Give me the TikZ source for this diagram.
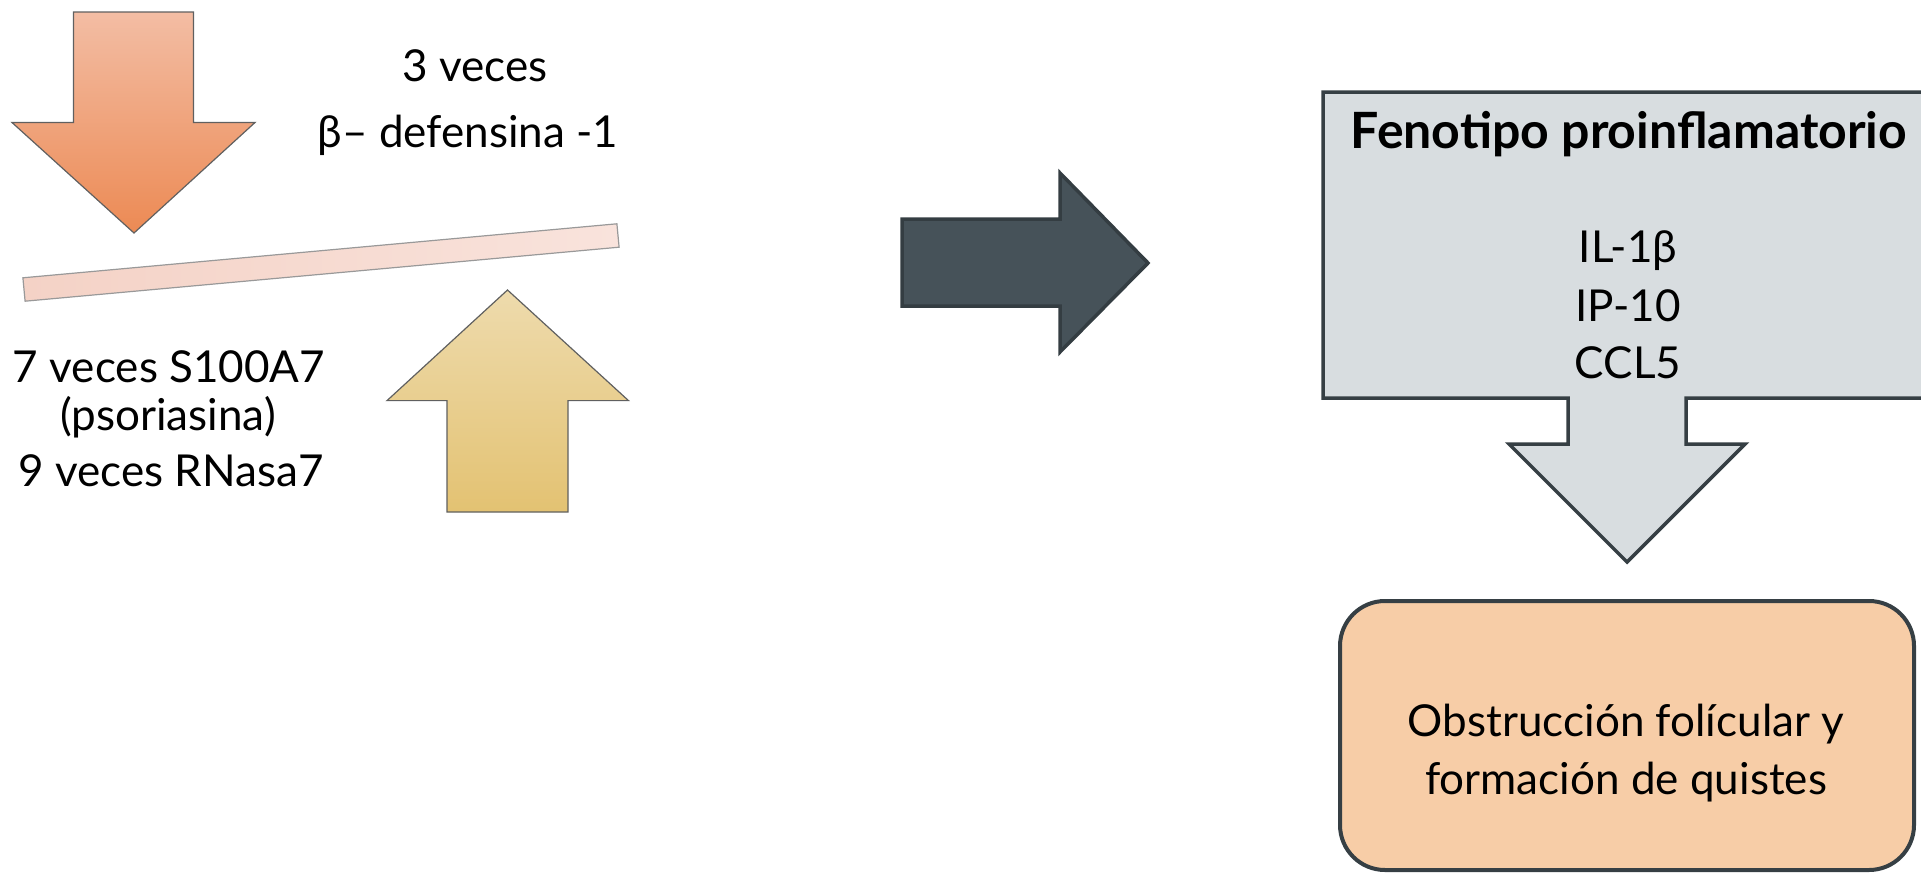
\documentclass[tikz,border=0pt]{standalone}
\usepackage{fontspec}
\setmainfont{Lato}
\begin{document}
\begin{tikzpicture}[x=1pt,y=-1pt,
  txt/.style={font=\fontsize{44}{54}\selectfont, inner sep=0pt, anchor=base},
  boldtxt/.style={txt, font=\fontsize{50}{60}\selectfont\bfseries},
  downblock/.style={draw=gray!75!black, line width=1.2pt, top color=arrowtop, bottom color=arrowbottom},
  upblock/.style={draw=gray!75!black, line width=1.2pt, top color=goldtop, bottom color=goldbottom},
  barblock/.style={draw=gray!80, line width=1.2pt, left color=barleft, right color=barright},
  darkblock/.style={draw=darkedge, line width=3.5pt, fill=darkfill, line join=miter},
  callout/.style={draw=calloutedge, line width=3.5pt, fill=calloutfill, line join=miter},
  resultbox/.style={draw=calloutedge, line width=4pt, fill=resultfill, rounded corners=45pt}
]
\definecolor{arrowtop}{HTML}{F3BDA4}
\definecolor{arrowbottom}{HTML}{EC8A54}
\definecolor{goldtop}{HTML}{EEDBAD}
\definecolor{goldbottom}{HTML}{E3C272}
\definecolor{barleft}{HTML}{F4D2C6}
\definecolor{barright}{HTML}{F9E3DC}
\definecolor{darkfill}{HTML}{465259}
\definecolor{darkedge}{HTML}{343D42}
\definecolor{calloutfill}{HTML}{D8DDE0}
\definecolor{calloutedge}{HTML}{363F44}
\definecolor{resultfill}{HTML}{F7CDA7}

\useasboundingbox (0,0) rectangle (1921,873);
\clip (0,0) rectangle (1921,873);

% falling arrow (orange)
\draw[downblock] (73.5,12) -- (193.5,12) -- (193.5,122.5) -- (255,122.5)
  -- (134,233) -- (12,122.5) -- (73.5,122.5) -- cycle;

% tilted balance bar
\draw[barblock] (22.9,277.8) -- (616.9,223.8) -- (619.1,247.2) -- (25.1,301.2) -- cycle;

% rising arrow (gold)
\draw[upblock] (447,512) -- (568,512) -- (568,400.6) -- (628.5,400.6)
  -- (507.5,290) -- (387,400.6) -- (447,400.6) -- cycle;

% left-hand labels
\node[txt] (veces3) at (475,81) {3 veces};
\node[txt] (defensina) at (468,147) {β– defensina -1};
\node[txt] (s100) at (169,382) {7 veces S100A7};
\node[txt] (psoriasina) at (168,430) {(psoriasina)};
\node[txt] (rnasa) at (171,486) {9 veces RNasa7};

% central block arrow
\draw[darkblock] (902,219) -- (1060,219) -- (1060,173) -- (1148,263)
  -- (1060,352) -- (1060,306) -- (902,306) -- cycle;

% callout with downward arrow
\draw[callout] (1323,92) -- (1940,92) -- (1940,398) -- (1686,398) -- (1686,444)
  -- (1745,444) -- (1627,562) -- (1509,444) -- (1568,444) -- (1568,398)
  -- (1323,398) -- cycle;
\node[boldtxt] (fenotipo) at (1629,148) {Fenotipo proinflamatorio};
\node[txt] (il) at (1628,262) {IL-1β};
\node[txt] (ip) at (1628,321) {IP-10};
\node[txt] (ccl) at (1628,378) {CCL5};

% outcome box
\draw[resultbox] (1340,601) rectangle (1914,870);
\node[txt] (obstr) at (1626,736) {Obstrucción folícular y};
\node[txt] (quistes) at (1626,794) {formación de quistes};
\end{tikzpicture}
\end{document}
